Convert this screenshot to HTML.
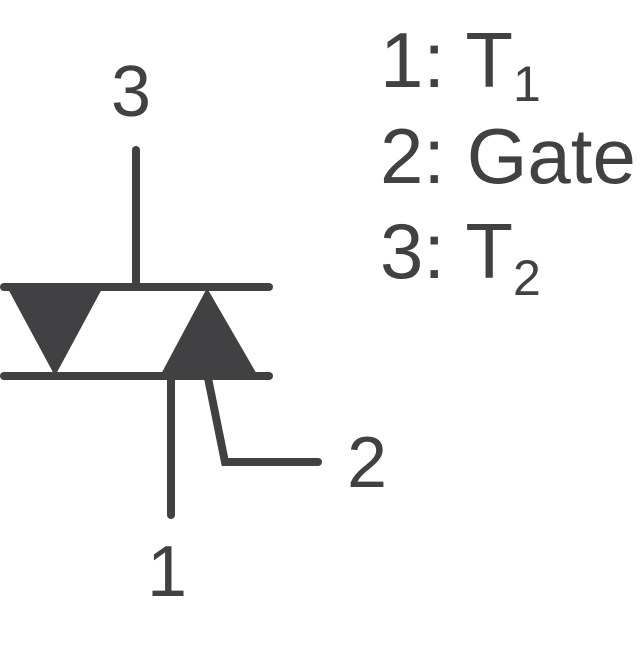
<!DOCTYPE html>
<html><head><style>html,body{margin:0;padding:0;background:#fff}</style></head>
<body>
<svg width="640" height="640" viewBox="0 0 640 640" xmlns="http://www.w3.org/2000/svg">
<g stroke="#414143" stroke-width="8" stroke-linecap="round" fill="none">
<line x1="136" y1="150" x2="136" y2="287"/>
<line x1="4" y1="287" x2="269" y2="287"/>
<line x1="4" y1="376" x2="269" y2="376"/>
<line x1="171" y1="376" x2="171" y2="515"/>
<polyline points="208,378 225,462 318,462" stroke-linecap="round" stroke-linejoin="miter"/>
</g>
<g fill="#414143">
<polygon points="7,287 103,287 55,376"/>
<polygon points="207,288 258,376 160,376"/>
</g>
<g fill="#414143" font-family="Liberation Sans, sans-serif">
<text x="111" y="116" font-size="72">3</text>
<text x="147" y="596" font-size="72">1</text>
<text x="347" y="487" font-size="72">2</text>
<text x="380" y="87" font-size="78">1: T<tspan font-size="50" dy="14">1</tspan></text>
<text x="380" y="183" font-size="78">2: Gate</text>
<text x="380" y="278" font-size="78">3: T<tspan font-size="50" dy="17">2</tspan></text>
</g>
</svg>
</body></html>
